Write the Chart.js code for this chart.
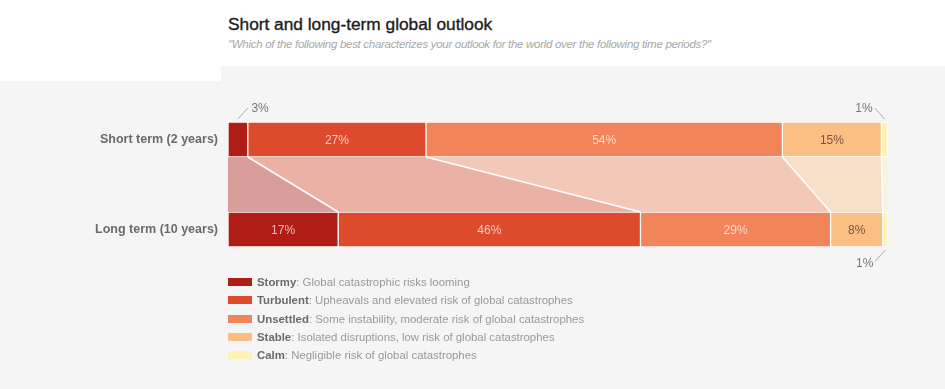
<!DOCTYPE html>
<html>
<head>
<meta charset="utf-8">
<script src="https://cdn.jsdelivr.net/npm/chart.js@4.4.1/dist/chart.umd.min.js"></script>
<style>
  html, body { margin:0; padding:0; width:945px; height:389px; overflow:hidden; background:#f5f5f5; font-family:"Liberation Sans", Arial, sans-serif; }
  #whiteTop { position:absolute; left:0; top:0; width:945px; height:66px; background:#fff; }
  #whiteLeft { position:absolute; left:0; top:0; width:221px; height:81px; background:#fff; }
  #title { position:absolute; left:228px; top:14px; font-size:17.3px; color:#1c1c1c; white-space:nowrap; -webkit-text-stroke:0.35px #1c1c1c; }
  #subtitle { position:absolute; left:228px; top:38px; font-size:11.5px; font-style:italic; color:#a8a8a8; white-space:nowrap; letter-spacing:-0.3px; }
  #chart { position:absolute; left:0; top:0; }
  #legend { position:absolute; left:228px; top:273px; }
  .row { height:18.3px; display:flex; align-items:center; white-space:nowrap; font-size:11.4px; }
  .sw { width:24px; height:8px; margin-right:5px; }
  .nm { font-weight:bold; color:#6a6a6a; }
  .ds { color:#999; }
</style>
</head>
<body>
<div id="whiteTop"></div>
<div id="whiteLeft"></div>
<div id="title">Short and long-term global outlook</div>
<div id="subtitle">"Which of the following best characterizes your outlook for the world over the following time periods?"</div>
<canvas id="chart" width="945" height="389"></canvas>
<div id="legend"></div>
<script>
// ---- data ----
const categories = ['Short term (2 years)', 'Long term (10 years)'];
const seriesNames = ['Stormy', 'Turbulent', 'Unsettled', 'Stable', 'Calm'];
const seriesDescriptions = [
  'Global catastrophic risks looming',
  'Upheavals and elevated risk of global catastrophes',
  'Some instability, moderate risk of global catastrophes',
  'Isolated disruptions, low risk of global catastrophes',
  'Negligible risk of global catastrophes'
];
const stormy    = [3, 16.7];
const turbulent = [27, 45.8];
const unsettled = [54, 28.8];
const stable    = [15, 7.9];
const calm      = [1, 0.8];
const seriesValues = [stormy, turbulent, unsettled, stable, calm];

// ---- styles ----
const seriesColors = [[176,28,22],[221,74,44],[241,132,88],[251,191,132],[254,243,182]];
const rgb = (c, a) => a === undefined ? `rgb(${c[0]},${c[1]},${c[2]})` : `rgba(${c[0]},${c[1]},${c[2]},${a})`;
const darkText = [false, false, false, true, true];

// legend (HTML, built from arrays)
const lg = document.getElementById('legend');
seriesNames.forEach((n, i) => {
  const r = document.createElement('div'); r.className = 'row';
  r.innerHTML = `<span class="sw" style="background:${rgb(seriesColors[i])}"></span><span class="nm">${n}</span><span class="ds">: ${seriesDescriptions[i]}</span>`;
  lg.appendChild(r);
});

const bandsPlugin = {
  id: 'bands',
  beforeDatasetsDraw(chart) {
    const ctx = chart.ctx;
    const metas = chart.data.datasets.map((d, i) => chart.getDatasetMeta(i));
    ctx.save();
    metas.forEach((m, i) => {
      const s = m.data[0].getProps(['x','y','base','height'], true);
      const l = m.data[1].getProps(['x','y','base','height'], true);
      const sb = s.y + s.height / 2, lt = l.y - l.height / 2;
      ctx.beginPath();
      ctx.moveTo(s.base, sb); ctx.lineTo(s.x, sb); ctx.lineTo(l.x, lt); ctx.lineTo(l.base, lt); ctx.closePath();
      ctx.fillStyle = rgb(seriesColors[i], 0.4);
      ctx.fill();
    });
    metas.forEach((m, i) => {
      if (i === metas.length - 1) return;
      const s = m.data[0].getProps(['x','y','height'], true);
      const l = m.data[1].getProps(['x','y','height'], true);
      ctx.beginPath();
      ctx.moveTo(s.x, s.y + s.height / 2); ctx.lineTo(l.x, l.y - l.height / 2);
      ctx.strokeStyle = '#fff'; ctx.lineWidth = 1.5; ctx.stroke();
    });
    ctx.restore();
  }
};

const labelsPlugin = {
  id: 'valLabels',
  afterDatasetsDraw(chart) {
    const ctx = chart.ctx;
    ctx.save();
    ctx.font = '12px "Liberation Sans", Arial, sans-serif';
    const midChart = (chart.chartArea.left + chart.chartArea.right) / 2;
    chart.data.datasets.forEach((ds, i) => {
      const m = chart.getDatasetMeta(i);
      ds.data.forEach((v, j) => {
        const el = m.data[j].getProps(['x','y','base','height'], true);
        const txt = Math.round(v) + '%';
        const cx = (el.x + el.base) / 2;
        if (v >= 5) {
          ctx.fillStyle = darkText[i] ? 'rgba(60,40,30,0.7)' : 'rgba(255,255,255,0.7)';
          ctx.textAlign = 'center'; ctx.textBaseline = 'middle';
          ctx.fillText(txt, cx, el.y + 1);
        } else {
          const up = j === 0;
          const right = cx < midChart;
          const y0 = up ? el.y - el.height / 2 - 3 : el.y + el.height / 2 + 3;
          const y1 = up ? y0 - 11 : y0 + 11;
          const x1 = right ? cx + 10 : cx - 10;
          ctx.beginPath(); ctx.moveTo(cx, y0); ctx.lineTo(x1, y1);
          ctx.strokeStyle = '#aaa'; ctx.lineWidth = 1; ctx.stroke();
          ctx.fillStyle = '#777';
          ctx.textAlign = right ? 'left' : 'right'; ctx.textBaseline = 'middle';
          ctx.fillText(txt, right ? x1 + 3.5 : x1 - 2, up ? y1 + 1 : y1 + 2.5);
        }
      });
    });
    ctx.restore();
  }
};

new Chart(document.getElementById('chart'), {
  type: 'bar',
  data: {
    labels: categories,
    datasets: seriesNames.map((n, i) => ({
      label: n,
      data: seriesValues[i],
      backgroundColor: rgb(seriesColors[i]),
      borderColor: '#fff',
      borderWidth: 1,
      borderSkipped: false,
      barThickness: 35
    }))
  },
  options: {
    indexAxis: 'y',
    responsive: false,
    animation: false,
    devicePixelRatio: 1,
    layout: { padding: { top: 94.5, bottom: 114.5, right: 57, left: 0 } },
    scales: {
      x: { stacked: true, min: 0, max: 100, display: false },
      y: {
        stacked: true,
        grid: { display: false, drawTicks: false },
        border: { display: false },
        ticks: { color: '#6a6a6a', padding: 10, font: { family: '"Liberation Sans", Arial, sans-serif', size: 12.5, weight: 'bold' } },
        afterFit(s) { s.width = 228; }
      }
    },
    plugins: { legend: { display: false }, tooltip: { enabled: false } }
  },
  plugins: [bandsPlugin, labelsPlugin]
});
</script>
</body>
</html>
